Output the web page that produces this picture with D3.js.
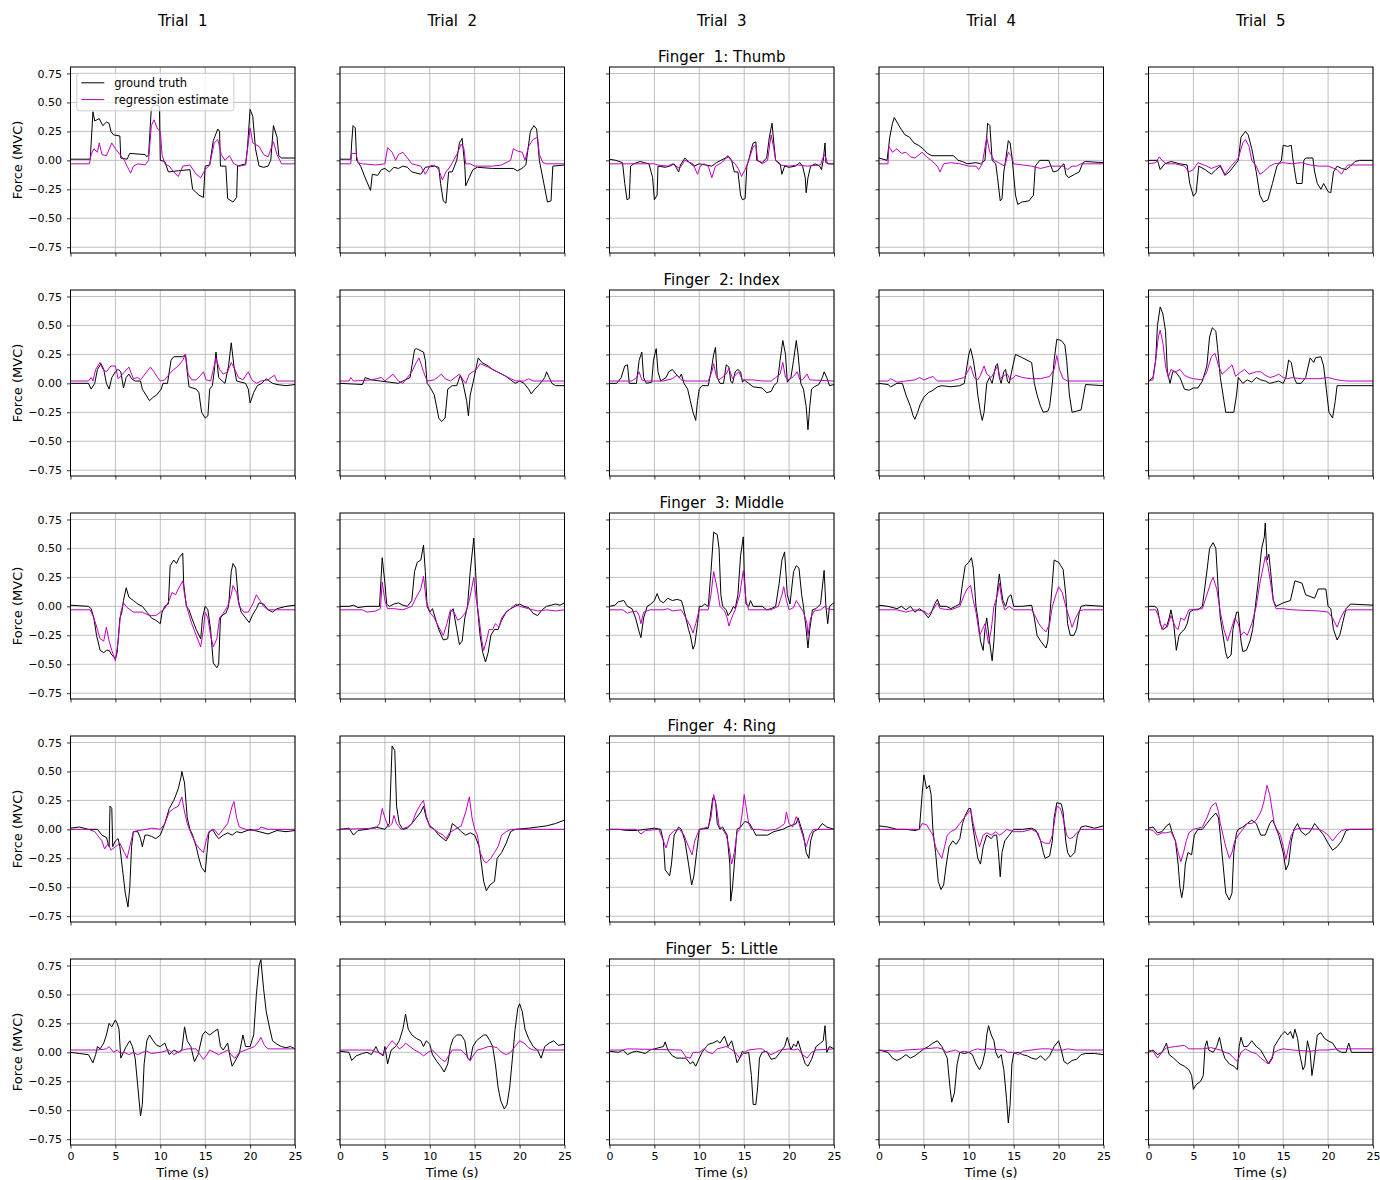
<!DOCTYPE html>
<html>
<head>
<meta charset="utf-8">
<script src="https://cdn.jsdelivr.net/npm/d3@7"></script>
<style>
body { margin: 0; background: #fff; }
svg text { font-family: "DejaVu Sans", sans-serif; fill: #000; }
</style>
</head>
<body>
<script>
var trials = ["Trial  1", "Trial  2", "Trial  3", "Trial  4", "Trial  5"];
var fingers = ["Finger  1: Thumb", "Finger  2: Index", "Finger  3: Middle", "Finger  4: Ring", "Finger  5: Little"];
var xTicks = [0, 5, 10, 15, 20, 25];
var yTicks = [-0.75, -0.5, -0.25, 0, 0.25, 0.5, 0.75];
var seriesNames = ["ground truth", "regression estimate"];

// each trace is a flat list: time, value, time, value, ...
var thumbTruth = [
  [0,0.01, 2.2,0.01, 2.5,0.42, 2.7,0.34, 3.2,0.36, 3.6,0.3, 4.0,0.33, 4.3,0.32, 4.5,0.25, 4.8,0.22, 5.5,0.21, 5.6,0.02, 6.3,0.01, 6.6,0.06, 8.3,0.05, 8.5,0.03, 8.7,0.05, 9.0,0.45, 9.3,0.48, 9.9,0.47, 10.0,0.0, 10.5,-0.01, 10.9,-0.1, 12.0,-0.09, 13.3,-0.08, 13.6,-0.25, 14.3,-0.3, 14.8,-0.32, 15.0,-0.05, 15.5,-0.04, 15.9,0.17, 16.4,0.27, 16.6,0.25, 16.7,-0.05, 17.3,-0.05, 17.5,-0.33, 18.1,-0.36, 18.5,-0.32, 18.6,-0.05, 19.5,-0.03, 19.7,0.1, 20.0,0.44, 20.3,0.38, 20.6,0.1, 21.0,-0.05, 21.5,-0.06, 22.0,-0.05, 22.3,0.0, 22.6,0.3, 23.0,0.2, 23.2,0.04, 23.5,0.02, 25,0.02],
  [0,0.01, 1.2,0.01, 1.3,0.15, 1.45,0.3, 1.7,0.28, 1.85,0.0, 2.3,-0.05, 2.8,-0.15, 3.4,-0.26, 3.6,-0.12, 4.2,-0.13, 4.6,-0.08, 5.0,-0.07, 5.5,-0.1, 6.0,-0.06, 6.5,-0.07, 7.0,-0.05, 7.5,-0.06, 8.0,-0.1, 9.0,-0.12, 9.5,-0.06, 10.5,-0.05, 11.0,-0.06, 11.2,-0.2, 11.5,-0.35, 11.8,-0.37, 12.1,-0.1, 12.5,-0.1, 13.0,0.0, 13.3,0.15, 13.6,0.19, 13.9,-0.05, 14.0,-0.22, 14.4,-0.15, 14.8,-0.08, 15.3,-0.06, 17.0,-0.07, 19.3,-0.07, 19.75,-0.09, 20.25,-0.07, 20.7,-0.04, 21.2,0.25, 21.6,0.3, 21.9,0.27, 22.2,0.0, 22.7,-0.2, 23.1,-0.36, 23.5,-0.35, 23.7,-0.05, 25,-0.04],
  [0,0.01, 0.7,0.0, 1.45,-0.02, 1.7,-0.2, 1.95,-0.34, 2.2,-0.33, 2.35,-0.05, 2.7,-0.03, 3.4,-0.01, 3.9,-0.02, 4.4,-0.03, 4.8,-0.15, 5.0,-0.34, 5.3,-0.3, 5.4,-0.05, 6.2,-0.06, 6.7,-0.05, 7.2,-0.03, 7.7,-0.1, 7.9,-0.04, 8.4,0.02, 8.9,-0.02, 9.4,-0.05, 10.0,-0.03, 11.4,-0.05, 11.9,-0.02, 12.9,0.02, 13.2,0.04, 13.6,0.0, 13.9,-0.1, 14.3,-0.1, 14.6,-0.3, 14.8,-0.34, 15.1,-0.33, 15.3,-0.05, 15.5,0.0, 15.8,0.1, 16.0,0.15, 16.3,0.16, 16.4,0.0, 17.0,-0.02, 17.5,0.02, 17.8,0.2, 18.1,0.32, 18.3,0.15, 18.5,0.0, 19.0,-0.03, 19.2,-0.12, 19.5,-0.05, 20.0,-0.06, 20.7,-0.05, 21.2,-0.02, 21.5,-0.05, 21.8,-0.15, 21.9,-0.28, 22.1,-0.15, 22.4,-0.05, 22.9,-0.03, 23.4,-0.05, 23.6,-0.08, 23.8,0.0, 24.0,0.15, 24.1,-0.02, 24.4,-0.03, 25,-0.03],
  [0,0.02, 0.9,0.0, 1.2,0.2, 1.5,0.32, 1.7,0.37, 2.0,0.33, 2.45,0.27, 2.9,0.22, 3.4,0.2, 3.9,0.15, 4.4,0.13, 4.9,0.1, 5.4,0.06, 5.9,0.04, 8.3,0.04, 8.8,0.0, 9.3,-0.01, 9.8,-0.03, 10.8,-0.02, 11.3,-0.03, 11.8,0.0, 12.1,0.32, 12.35,0.3, 12.6,0.0, 13.0,-0.03, 13.2,-0.15, 13.5,-0.35, 13.7,-0.33, 13.9,-0.1, 14.1,0.0, 14.4,0.17, 14.6,0.15, 14.85,0.0, 15.2,-0.3, 15.45,-0.38, 15.9,-0.36, 16.7,-0.35, 17.2,-0.3, 17.4,-0.05, 17.9,0.0, 18.9,0.0, 19.4,-0.1, 19.9,-0.09, 20.3,-0.05, 20.6,-0.03, 20.8,-0.12, 21.1,-0.15, 21.8,-0.12, 22.3,-0.1, 22.7,-0.02, 23.0,-0.01, 25,-0.02],
  [0,0.0, 1.0,0.0, 1.3,-0.08, 1.8,-0.03, 2.5,-0.01, 3.5,-0.03, 4.3,-0.04, 4.6,-0.2, 5.0,-0.31, 5.3,-0.28, 5.6,-0.05, 6.3,-0.08, 7.0,-0.12, 7.5,-0.08, 8.0,-0.05, 8.5,-0.13, 9.0,-0.1, 9.5,-0.05, 10.0,0.0, 10.3,0.2, 10.8,0.25, 11.1,0.22, 11.5,0.1, 12.0,-0.1, 12.4,-0.3, 12.8,-0.36, 13.3,-0.34, 13.8,-0.2, 14.3,-0.05, 14.8,0.0, 15.0,0.13, 15.5,0.12, 15.9,0.13, 16.1,0.0, 16.5,-0.2, 17.1,-0.2, 17.3,0.0, 17.5,0.02, 18.3,0.02, 18.5,-0.1, 18.8,-0.2, 19.2,-0.25, 19.5,-0.2, 20.0,-0.27, 20.3,-0.28, 20.6,-0.1, 21.0,-0.05, 21.5,-0.07, 22.0,-0.08, 22.5,-0.05, 23.0,-0.01, 23.5,0.0, 25,0.0]
];
var thumbEst = [
  [0,-0.03, 2.1,-0.03, 2.3,0.05, 2.6,0.1, 3.0,0.07, 3.2,0.15, 3.5,0.05, 4.0,0.04, 4.6,0.15, 5.0,0.1, 5.5,0.05, 6.0,0.0, 6.3,-0.05, 6.7,-0.11, 7.0,-0.05, 7.5,-0.03, 8.3,-0.04, 8.7,0.0, 9.0,0.3, 9.3,0.35, 9.7,0.27, 10.0,0.25, 10.2,0.05, 10.5,-0.03, 11.0,-0.05, 11.5,-0.1, 12.0,-0.14, 12.5,-0.05, 13.3,-0.04, 14.0,-0.12, 14.5,-0.15, 15.0,-0.08, 15.5,-0.04, 16.0,0.15, 16.4,0.18, 16.8,0.05, 17.2,0.0, 17.7,0.04, 18.2,-0.03, 18.8,-0.05, 19.5,-0.04, 20.0,0.28, 20.3,0.15, 21.0,0.12, 21.5,0.05, 22.0,0.03, 22.6,0.16, 23.0,0.05, 23.5,-0.03, 25,-0.03],
  [0,-0.03, 1.2,-0.03, 1.3,0.06, 1.8,0.06, 2.0,-0.02, 2.5,-0.03, 4.0,-0.04, 5.0,-0.03, 5.3,0.11, 5.8,0.07, 6.2,0.0, 6.5,0.05, 7.0,0.07, 7.5,0.02, 8.0,-0.03, 9.0,-0.05, 9.5,-0.12, 10.0,-0.05, 10.5,-0.04, 11.0,-0.08, 11.4,-0.17, 11.8,-0.1, 12.3,-0.05, 13.0,0.05, 13.5,0.14, 13.8,0.1, 14.0,-0.03, 14.5,-0.03, 15,-0.05, 17,-0.05, 18,-0.04, 19.0,0.0, 19.3,0.1, 19.8,0.08, 20.3,0.07, 20.6,0.0, 21.0,0.12, 21.5,0.18, 22.0,0.2, 22.2,0.05, 22.6,-0.02, 23,-0.03, 25,-0.03],
  [0,-0.03, 5.0,-0.03, 5.4,-0.04, 6.5,-0.05, 7.0,-0.03, 7.8,-0.07, 8.4,0.0, 9.3,-0.03, 9.8,-0.12, 10.1,-0.05, 10.5,-0.03, 11.0,-0.05, 11.4,-0.15, 11.8,-0.05, 12.5,-0.02, 13.0,0.02, 13.3,0.03, 13.5,0.0, 14.0,-0.03, 14.4,-0.08, 14.7,-0.14, 15.1,-0.08, 15.5,0.0, 16.0,0.12, 16.3,0.13, 16.5,0.0, 17.0,-0.03, 17.6,0.0, 18.0,0.22, 18.3,0.1, 18.5,0.0, 19.0,-0.04, 20,-0.05, 21,-0.04, 22,-0.05, 23.5,-0.04, 23.9,0.05, 24.1,0.02, 24.3,-0.03, 25,-0.03],
  [0,-0.03, 1.0,-0.03, 1.1,0.12, 1.5,0.07, 2.0,0.1, 2.5,0.06, 3.0,0.07, 3.5,0.03, 4.0,0.02, 4.8,0.07, 5.3,0.03, 5.8,0.0, 6.5,-0.05, 6.8,-0.1, 7.2,-0.03, 8,-0.02, 9,-0.03, 10,-0.05, 10.8,-0.05, 11.1,-0.08, 11.5,-0.03, 12.0,0.2, 12.3,0.08, 12.8,0.0, 13.3,-0.02, 14,-0.05, 14.4,0.07, 14.7,0.04, 15,-0.03, 16,-0.04, 17,-0.05, 18,-0.07, 19,-0.05, 20.5,-0.05, 21.0,-0.08, 21.5,-0.05, 22,-0.05, 22.5,-0.03, 25,-0.03],
  [0,-0.03, 0.8,-0.02, 1.2,0.03, 1.5,0.0, 2.0,-0.03, 3,-0.03, 4,-0.05, 4.5,-0.1, 5.0,-0.08, 5.5,-0.02, 6.5,-0.05, 7.0,-0.07, 8.0,-0.04, 8.5,-0.12, 9.2,-0.05, 10.0,0.02, 10.5,0.15, 10.8,0.18, 11.2,0.12, 11.5,0.0, 12.0,-0.05, 12.4,-0.12, 12.8,-0.1, 13.5,-0.05, 14.0,-0.03, 15.0,-0.02, 16.0,-0.03, 17,-0.02, 18,-0.04, 19,-0.05, 20,-0.05, 21.0,-0.08, 21.5,-0.12, 21.8,-0.08, 22.2,-0.04, 25,-0.04]
];

var indexTruth = [
  [0,0.0, 2.0,0.0, 2.3,-0.05, 2.7,0.0, 3.0,0.12, 3.4,0.17, 3.7,0.12, 4.0,0.0, 4.3,-0.05, 4.6,0.05, 5.0,0.1, 5.3,0.12, 5.6,0.1, 5.9,-0.04, 6.2,0.05, 6.5,0.08, 6.8,0.04, 7.2,0.02, 7.8,0.02, 8.0,-0.05, 8.4,-0.1, 8.8,-0.15, 9.2,-0.12, 9.6,-0.1, 10.1,-0.05, 10.3,0.0, 10.8,0.0, 11.2,0.2, 11.5,0.23, 12.5,0.23, 12.8,0.25, 13.0,0.1, 13.2,-0.03, 14.0,-0.05, 14.3,-0.08, 14.6,-0.25, 15.0,-0.3, 15.3,-0.28, 15.5,-0.05, 15.8,-0.02, 16.0,0.1, 16.2,0.27, 16.5,0.05, 16.9,0.02, 17.2,0.0, 17.6,0.15, 17.9,0.35, 18.2,0.15, 18.5,0.02, 19.5,0.0, 19.8,-0.05, 20.0,-0.17, 20.4,-0.08, 20.8,-0.02, 21.3,0.0, 21.8,0.04, 22.5,0.0, 23.0,-0.01, 24,-0.02, 25,-0.01],
  [0,0.0, 2.5,-0.01, 2.8,0.05, 3.5,0.03, 4.5,0.02, 5.5,0.01, 6.5,0.0, 7.0,0.02, 7.8,0.05, 8.3,0.29, 8.5,0.3, 9.3,0.27, 9.5,0.2, 9.7,0.0, 10.0,-0.03, 10.5,-0.1, 11.0,-0.3, 11.3,-0.33, 11.7,-0.3, 12.0,-0.05, 12.5,-0.02, 13.0,-0.02, 13.4,0.07, 13.7,0.0, 14.1,-0.15, 14.3,-0.28, 14.5,-0.1, 14.8,0.0, 15.2,0.15, 15.4,0.22, 15.8,0.18, 16.5,0.15, 17,0.12, 17.5,0.1, 18.0,0.08, 18.5,0.06, 19,0.03, 19.5,0.0, 20.0,0.02, 20.5,0.0, 21.0,-0.05, 21.3,-0.09, 21.7,-0.05, 22.2,-0.01, 22.8,0.05, 23.0,0.1, 23.3,0.05, 23.6,0.0, 24,-0.02, 25,-0.02],
  [0,0.0, 0.8,0.0, 1.3,0.05, 1.7,0.15, 2.0,0.16, 2.2,0.0, 3.0,0.0, 3.3,0.2, 3.6,0.27, 3.8,0.05, 4.1,0.0, 4.7,0.01, 4.9,0.2, 5.2,0.3, 5.4,0.1, 5.7,0.02, 6.3,0.05, 6.6,0.1, 7.0,0.12, 7.4,0.08, 7.8,0.05, 8.0,0.08, 8.3,0.0, 8.7,-0.05, 9.0,-0.15, 9.3,-0.25, 9.6,-0.32, 9.8,-0.15, 10.0,-0.05, 10.3,-0.02, 11.0,-0.02, 11.3,0.1, 11.6,0.25, 11.8,0.31, 12.0,0.05, 12.3,0.0, 12.7,0.0, 13.0,0.16, 13.3,0.14, 13.5,0.02, 13.7,0.0, 14.0,0.1, 14.3,0.12, 14.6,0.1, 14.8,0.01, 15.0,0.03, 15.5,0.0, 16,-0.03, 17,-0.04, 17.5,-0.08, 18,-0.07, 18.3,-0.02, 18.7,0.01, 19.0,0.2, 19.3,0.37, 19.6,0.25, 19.8,0.01, 20.2,0.05, 20.5,0.2, 20.8,0.37, 21.0,0.25, 21.3,0.0, 21.6,-0.05, 21.9,-0.2, 22.1,-0.4, 22.3,-0.2, 22.5,-0.05, 22.8,-0.03, 23.3,-0.01, 23.7,0.05, 23.9,0.1, 24.2,0.05, 24.5,-0.02, 25,-0.01],
  [0,0.0, 1.0,-0.01, 1.3,-0.03, 2.0,0.0, 2.6,0.0, 3.0,-0.1, 3.5,-0.2, 3.8,-0.28, 4.0,-0.31, 4.3,-0.25, 4.6,-0.18, 5.0,-0.12, 5.5,-0.08, 6.0,-0.06, 6.5,-0.03, 7.0,-0.02, 8.0,-0.03, 9.0,-0.02, 9.5,0.0, 9.8,0.15, 10.0,0.25, 10.2,0.3, 10.5,0.2, 10.8,0.05, 11.0,-0.1, 11.3,-0.25, 11.5,-0.32, 11.7,-0.25, 12.0,0.0, 12.3,0.05, 12.6,0.0, 13.0,0.15, 13.2,0.17, 13.4,0.05, 13.6,0.0, 13.9,0.1, 14.1,0.12, 14.3,0.02, 14.5,0.0, 14.9,0.15, 15.2,0.25, 16.0,0.22, 17.0,0.18, 17.3,0.0, 17.6,-0.1, 18.0,-0.2, 18.3,-0.25, 18.8,-0.24, 19.0,-0.2, 19.3,0.0, 19.5,0.2, 19.8,0.38, 20.3,0.37, 20.7,0.33, 20.9,0.2, 21.2,-0.1, 21.5,-0.25, 22.0,-0.24, 22.5,-0.23, 22.8,-0.1, 23.0,-0.01, 25,-0.02],
  [0,0.02, 0.5,0.05, 0.8,0.2, 1.0,0.5, 1.3,0.66, 1.6,0.6, 1.9,0.45, 2.1,0.1, 2.4,0.0, 2.7,0.1, 3.0,0.1, 3.5,0.05, 4.0,-0.05, 4.5,-0.06, 5.0,-0.04, 5.5,-0.04, 6.0,0.02, 6.5,0.15, 6.8,0.4, 7.1,0.48, 7.5,0.45, 7.7,0.3, 8.0,0.05, 8.3,-0.1, 8.6,-0.25, 9.0,-0.25, 9.5,-0.25, 9.8,-0.1, 10.0,0.05, 10.5,0.0, 11.0,0.03, 11.5,0.01, 12.0,0.05, 12.5,0.03, 13.0,0.02, 13.5,0.0, 14.0,0.01, 14.5,0.02, 15.0,0.0, 15.3,0.05, 15.6,0.2, 15.9,0.18, 16.2,0.05, 16.5,0.0, 17.0,0.0, 17.5,0.05, 18.0,0.22, 18.4,0.18, 18.6,0.22, 19.2,0.23, 19.5,0.15, 19.8,-0.05, 20.1,-0.25, 20.5,-0.3, 20.8,-0.15, 21.0,-0.02, 21.5,-0.02, 25,-0.02]
];
var indexEst = [
  [0,0.02, 2.0,0.02, 2.3,0.05, 2.5,0.02, 2.8,0.12, 3.3,0.18, 3.6,0.12, 4.0,0.1, 4.5,0.15, 5.0,0.15, 5.3,0.04, 5.8,0.08, 6.5,0.14, 7.0,0.04, 7.5,0.05, 7.8,0.03, 8.3,0.08, 8.9,0.14, 9.3,0.1, 9.7,0.05, 10.0,0.02, 10.5,0.03, 11.0,0.08, 11.5,0.12, 12.0,0.15, 12.5,0.2, 12.8,0.25, 13.1,0.08, 13.5,0.03, 14.0,0.03, 14.5,0.07, 14.8,0.1, 15.1,0.03, 15.6,0.02, 16.0,0.15, 16.2,0.22, 16.6,0.12, 17.0,0.08, 17.5,0.1, 17.9,0.18, 18.3,0.12, 18.7,0.05, 19.2,0.03, 19.8,0.1, 20.2,0.03, 20.7,0.0, 21.2,0.02, 22.0,0.03, 22.7,0.07, 23.0,0.02, 25,0.02],
  [0,0.02, 1.0,0.02, 1.2,0.05, 1.5,0.02, 3.5,0.03, 4.6,0.05, 5,0.02, 5.9,0.08, 6.5,0.02, 7.0,0.0, 7.5,0.05, 8.0,0.1, 8.5,0.18, 8.8,0.22, 9.3,0.1, 9.7,0.02, 10.5,0.03, 11.0,0.06, 11.3,0.08, 11.7,0.04, 12.3,0.02, 12.8,0.05, 13.3,0.08, 13.7,0.03, 14.0,0.0, 14.4,0.08, 14.8,0.1, 15.2,0.12, 15.6,0.17, 16.5,0.14, 17.5,0.1, 18.0,0.08, 18.5,0.06, 19.0,0.04, 19.6,0.02, 20.5,0.02, 21.0,0.04, 21.5,0.02, 25,0.02],
  [0,0.02, 2.5,0.02, 3.0,0.05, 3.3,0.1, 3.6,0.03, 4.0,0.02, 6,0.02, 7.0,0.04, 7.5,0.07, 8.0,0.03, 8.5,0.02, 10,0.02, 11.0,0.02, 11.4,0.1, 11.6,0.17, 11.9,0.06, 12.2,0.03, 13,0.08, 13.3,0.13, 13.7,0.04, 14.0,0.07, 14.4,0.1, 14.8,0.03, 15.2,0.03, 16,0.03, 17.0,0.02, 18.0,0.02, 18.5,0.05, 19.0,0.08, 19.3,0.18, 19.6,0.05, 20.0,0.03, 20.5,0.06, 20.9,0.1, 21.2,0.03, 21.5,0.03, 22.0,0.08, 22.3,0.03, 25,0.02],
  [0,0.02, 1.0,0.02, 1.3,0.04, 2.0,0.01, 3.0,0.02, 4.0,0.03, 4.5,0.05, 5.0,0.03, 6.0,0.06, 6.5,0.02, 8,0.02, 9.5,0.05, 10.0,0.12, 10.2,0.15, 10.6,0.05, 11.0,0.03, 11.3,0.07, 11.7,0.15, 12.0,0.08, 12.5,0.05, 13.2,0.15, 13.5,0.04, 14.0,0.07, 14.3,0.08, 14.6,0.03, 15,0.05, 15.2,0.07, 16.0,0.05, 17.0,0.04, 18.0,0.04, 19.0,0.06, 19.5,0.12, 19.8,0.24, 20.1,0.12, 20.5,0.04, 21,0.02, 25,0.02],
  [0,0.02, 0.5,0.03, 0.8,0.2, 1.1,0.4, 1.3,0.46, 1.6,0.35, 1.9,0.15, 2.2,0.05, 2.5,0.12, 3.0,0.1, 3.5,0.12, 4.0,0.07, 4.5,0.05, 5.0,0.04, 6.0,0.03, 6.5,0.1, 7.0,0.23, 7.4,0.26, 7.8,0.15, 8.2,0.08, 8.5,0.1, 9.3,0.16, 9.7,0.06, 10.3,0.1, 10.7,0.12, 11.2,0.08, 12.0,0.1, 12.5,0.1, 13.0,0.07, 13.5,0.05, 14.0,0.06, 14.5,0.08, 15.0,0.05, 15.5,0.04, 16,0.05, 17,0.04, 19,0.04, 20,0.05, 21,0.03, 22,0.02, 25,0.02]
];

var middleTruth = [
  [0,0.01, 2.0,0.0, 2.3,-0.02, 2.6,-0.1, 2.9,-0.25, 3.3,-0.38, 3.7,-0.4, 4.0,-0.38, 4.3,-0.38, 4.6,-0.42, 5.0,-0.45, 5.2,-0.4, 5.5,-0.1, 5.7,-0.06, 5.9,0.05, 6.2,0.16, 6.5,0.08, 7.0,0.05, 7.5,0.02, 8.0,0.0, 8.5,-0.05, 9.0,-0.1, 9.5,-0.12, 10.0,-0.15, 10.2,-0.05, 10.5,0.0, 10.9,0.02, 11.1,0.35, 11.5,0.4, 11.8,0.37, 12.1,0.42, 12.5,0.46, 12.6,0.2, 12.9,0.0, 13.2,-0.03, 13.5,-0.1, 14.0,-0.2, 14.5,-0.28, 14.7,-0.1, 15.0,0.0, 15.3,-0.03, 15.6,-0.2, 15.9,-0.49, 16.3,-0.53, 16.5,-0.5, 16.7,-0.1, 17.0,-0.07, 17.3,-0.06, 17.6,0.0, 17.9,0.3, 18.1,0.37, 18.4,0.33, 18.7,0.05, 19.0,-0.05, 19.5,-0.1, 19.9,-0.14, 20.3,-0.07, 20.7,-0.02, 21.0,0.03, 21.5,0.02, 22.0,-0.03, 22.5,-0.05, 23.0,-0.02, 24,0.0, 25,0.01],
  [0,0.0, 1.0,0.0, 1.5,0.01, 2.0,-0.01, 3.0,0.0, 4.4,0.0, 4.7,0.42, 5.0,0.2, 5.2,0.02, 5.5,0.0, 6.0,0.02, 6.5,0.03, 7.0,0.01, 7.5,0.0, 8.0,0.05, 8.3,0.3, 8.6,0.38, 9.0,0.4, 9.3,0.53, 9.5,0.3, 9.7,0.0, 10.0,-0.05, 10.3,-0.02, 10.6,-0.1, 11.0,-0.2, 11.5,-0.29, 12.0,-0.28, 12.3,-0.05, 12.6,-0.02, 13.0,-0.2, 13.3,-0.33, 13.6,-0.3, 13.9,-0.1, 14.2,0.0, 14.5,0.3, 14.9,0.59, 15.1,0.3, 15.3,0.0, 15.6,-0.25, 15.9,-0.4, 16.2,-0.48, 16.5,-0.4, 16.8,-0.25, 17.2,-0.2, 17.6,-0.2, 18.0,-0.12, 18.5,-0.05, 19.0,-0.02, 19.5,0.0, 20.0,0.02, 20.5,0.0, 21.0,-0.01, 21.5,-0.06, 22.0,-0.08, 22.5,-0.03, 23.0,0.0, 23.5,0.01, 24.0,0.02, 24.5,0.01, 25,0.03],
  [0,0.0, 0.6,0.01, 1.0,0.04, 1.6,0.05, 2.0,0.0, 2.5,-0.02, 2.9,-0.1, 3.3,-0.22, 3.5,-0.27, 3.8,-0.1, 4.2,0.0, 4.6,0.02, 5.0,0.05, 5.3,0.11, 5.6,0.05, 6.0,0.03, 6.5,0.07, 7.0,0.05, 7.5,0.06, 8.0,0.05, 8.2,0.0, 8.5,-0.1, 8.8,-0.2, 9.0,-0.25, 9.3,-0.37, 9.5,-0.33, 9.8,-0.15, 10.0,0.0, 10.3,0.0, 10.6,0.02, 11.0,0.0, 11.3,0.3, 11.6,0.64, 12.0,0.62, 12.2,0.5, 12.4,0.1, 12.6,0.0, 13.0,-0.03, 13.2,-0.08, 13.5,-0.05, 13.8,0.0, 14.0,-0.02, 14.3,0.1, 14.6,0.44, 14.9,0.6, 15.0,0.3, 15.2,0.02, 15.5,0.0, 15.7,0.05, 16.0,0.0, 17,0.0, 17.5,-0.03, 18.0,-0.02, 18.5,0.0, 18.9,0.2, 19.2,0.4, 19.5,0.47, 19.8,0.1, 20.1,0.02, 20.5,0.3, 20.8,0.35, 21.1,0.33, 21.4,0.1, 21.6,0.0, 21.9,-0.2, 22.1,-0.36, 22.3,-0.2, 22.6,-0.03, 23.0,-0.02, 23.5,0.02, 23.9,0.31, 24.1,0.0, 24.3,-0.15, 24.5,0.0, 24.8,0.02, 25,0.03],
  [0,0.01, 1.0,0.0, 2.0,-0.02, 2.5,0.0, 3.0,-0.03, 3.5,0.0, 4.0,-0.05, 4.5,-0.02, 5.0,-0.05, 5.5,-0.1, 5.8,-0.06, 6.2,0.02, 6.5,0.06, 6.8,0.0, 7.5,0.0, 8.0,-0.02, 8.5,0.0, 9.0,0.02, 9.3,0.2, 9.6,0.35, 10.0,0.38, 10.3,0.42, 10.5,0.33, 10.8,0.0, 11.0,-0.1, 11.3,-0.3, 11.6,-0.38, 11.8,-0.2, 12.0,-0.1, 12.3,-0.3, 12.6,-0.47, 12.8,-0.3, 13.0,0.0, 13.2,0.15, 13.4,0.28, 13.6,0.15, 13.8,0.05, 14.1,0.0, 14.4,0.08, 14.7,0.1, 15.0,0.0, 16.0,0.0, 17.0,0.01, 17.3,-0.1, 17.6,-0.25, 18.0,-0.3, 18.6,-0.36, 18.8,-0.3, 19.0,-0.1, 19.3,0.2, 19.5,0.4, 20.0,0.38, 20.5,0.32, 20.8,0.1, 21.0,-0.15, 21.3,-0.25, 21.7,-0.25, 22.0,-0.2, 22.3,-0.05, 22.5,0.0, 23.0,0.01, 25,0.0],
  [0,0.0, 0.7,0.0, 1.0,-0.02, 1.3,-0.15, 1.6,-0.2, 2.0,-0.18, 2.3,-0.1, 2.5,-0.03, 2.8,-0.15, 3.0,-0.3, 3.1,-0.38, 3.4,-0.25, 3.7,-0.22, 4.0,-0.2, 4.3,-0.15, 4.6,-0.05, 5.0,-0.03, 5.5,-0.03, 6.0,0.0, 6.5,0.3, 6.8,0.5, 7.2,0.55, 7.5,0.5, 7.8,0.1, 8.0,-0.1, 8.3,-0.25, 8.6,-0.4, 8.8,-0.45, 9.2,-0.42, 9.4,-0.2, 9.8,-0.05, 10.0,-0.05, 10.3,-0.3, 10.5,-0.39, 10.9,-0.38, 11.3,-0.3, 11.6,-0.2, 11.9,0.0, 12.2,0.2, 12.6,0.5, 12.9,0.6, 13.0,0.72, 13.2,0.4, 13.4,0.45, 13.6,0.3, 13.9,0.05, 14.2,0.0, 15.0,0.03, 15.8,0.05, 16.1,0.15, 16.3,0.22, 17.1,0.2, 17.5,0.1, 18.5,0.07, 18.9,0.15, 19.75,0.15, 20.0,0.0, 20.3,-0.02, 20.6,-0.2, 21.0,-0.29, 21.3,-0.25, 21.6,-0.15, 22.0,-0.02, 22.5,0.02, 25,0.01]
];
var middleEst = [
  [0,-0.03, 2.2,-0.03, 2.6,-0.1, 3.0,-0.2, 3.3,-0.28, 3.7,-0.3, 4.0,-0.18, 4.3,-0.3, 4.6,-0.38, 5.0,-0.47, 5.3,-0.3, 5.6,-0.05, 5.9,0.03, 6.3,-0.01, 7.0,-0.05, 8.0,-0.05, 8.5,-0.07, 9.0,-0.08, 9.5,-0.08, 10.0,-0.05, 10.5,-0.02, 11.0,0.05, 11.3,0.12, 11.7,0.1, 12.0,0.15, 12.5,0.22, 12.7,0.1, 13.0,-0.02, 13.5,-0.15, 14.0,-0.25, 14.5,-0.35, 14.8,-0.2, 15.0,-0.05, 15.3,-0.1, 15.6,-0.25, 15.9,-0.35, 16.3,-0.28, 16.6,-0.1, 17.0,-0.06, 17.5,0.0, 17.9,0.1, 18.1,0.18, 18.5,0.12, 18.8,0.0, 19.3,-0.05, 19.8,-0.05, 20.3,0.02, 20.7,0.1, 21.1,0.05, 21.5,0.0, 22.0,-0.03, 25,-0.03],
  [0,-0.03, 2.5,-0.03, 3.0,-0.05, 4.0,-0.04, 4.5,-0.02, 4.7,0.21, 5.0,0.05, 5.3,-0.02, 6.0,-0.02, 7.0,-0.03, 8.0,0.0, 8.5,0.08, 9.0,0.15, 9.3,0.26, 9.6,0.05, 10.0,-0.05, 10.5,-0.1, 11.0,-0.18, 11.5,-0.25, 11.9,-0.15, 12.3,-0.03, 12.7,-0.05, 13.1,-0.12, 13.5,-0.1, 14.0,-0.05, 14.4,0.05, 14.9,0.25, 15.1,0.1, 15.4,-0.05, 15.8,-0.3, 16.0,-0.38, 16.3,-0.3, 16.6,-0.2, 17.0,-0.2, 17.3,-0.15, 17.7,-0.18, 18.0,-0.1, 18.5,-0.05, 19.0,-0.02, 19.6,0.02, 20.0,0.0, 21.0,-0.02, 22.0,-0.04, 23.0,-0.03, 24.0,-0.04, 25,-0.03],
  [0,-0.03, 1.5,-0.03, 2.0,-0.06, 2.3,-0.05, 3.0,-0.04, 3.3,-0.08, 3.5,-0.15, 3.8,-0.05, 4.5,-0.03, 6.0,-0.03, 6.5,-0.02, 7.0,-0.04, 8.0,-0.03, 8.5,-0.1, 9.0,-0.17, 9.3,-0.23, 9.6,-0.15, 10.0,-0.03, 11.0,-0.03, 11.3,0.1, 11.6,0.3, 12.0,0.15, 12.3,0.0, 12.8,-0.04, 13.1,-0.1, 13.3,-0.17, 13.6,-0.1, 14.0,-0.03, 14.5,0.1, 14.9,0.31, 15.2,0.05, 15.5,-0.03, 18,-0.03, 18.8,0.0, 19.2,0.1, 19.4,0.17, 19.7,0.05, 20.0,-0.03, 20.5,-0.01, 20.8,0.05, 21.2,0.0, 21.6,-0.05, 22.0,-0.15, 22.1,-0.25, 22.4,-0.1, 22.8,-0.04, 23.5,-0.03, 24.0,0.0, 24.2,-0.02, 25,-0.03],
  [0,-0.03, 2.0,-0.03, 3.0,-0.05, 4.0,-0.03, 5.0,-0.04, 5.5,-0.07, 6.0,-0.03, 6.5,0.03, 6.8,-0.02, 8.0,-0.03, 9.0,0.0, 9.5,0.1, 9.8,0.15, 10.2,0.18, 10.5,0.05, 10.8,-0.05, 11.2,-0.25, 11.5,-0.2, 11.8,-0.15, 12.2,-0.32, 12.5,-0.2, 12.8,0.0, 13.2,0.1, 13.4,0.2, 13.7,0.05, 14.0,-0.03, 14.5,0.0, 15,-0.03, 17,-0.03, 17.5,-0.1, 17.8,-0.15, 18.3,-0.2, 18.6,-0.22, 19.0,-0.15, 19.3,0.0, 19.7,0.1, 20.0,0.17, 20.4,0.12, 20.8,0.0, 21.2,-0.1, 21.5,-0.18, 21.9,-0.1, 22.3,-0.04, 22.8,-0.03, 25,-0.03],
  [0,-0.03, 0.8,-0.03, 1.2,-0.1, 1.5,-0.2, 1.8,-0.15, 2.1,-0.18, 2.5,-0.08, 3.0,-0.18, 3.3,-0.2, 3.6,-0.1, 4.0,-0.12, 4.5,-0.03, 6.0,-0.02, 6.5,0.1, 7.0,0.22, 7.2,0.25, 7.6,0.15, 8.0,-0.05, 8.4,-0.2, 8.8,-0.3, 9.2,-0.2, 9.6,-0.1, 10.0,-0.15, 10.3,-0.25, 10.6,-0.22, 11.0,-0.25, 11.5,-0.15, 12.0,0.0, 12.4,0.2, 12.8,0.35, 13.0,0.43, 13.3,0.35, 13.6,0.2, 13.9,0.05, 14.2,-0.02, 15,-0.02, 16,-0.03, 19,-0.04, 20.0,-0.05, 20.5,-0.1, 21.0,-0.18, 21.4,-0.1, 21.8,-0.04, 22.2,-0.03, 25,-0.03]
];

var ringTruth = [
  [0,0.01, 1.0,0.02, 2.0,0.0, 3.0,0.0, 3.5,-0.05, 4.0,-0.07, 4.3,-0.15, 4.4,0.2, 4.6,0.18, 4.7,-0.15, 5.0,-0.1, 5.3,-0.08, 5.5,-0.15, 5.8,-0.35, 6.1,-0.55, 6.4,-0.67, 6.6,-0.5, 6.8,-0.15, 7.0,-0.02, 7.5,-0.02, 7.8,-0.08, 8.0,-0.15, 8.3,-0.05, 8.6,-0.05, 9.0,-0.06, 9.5,-0.08, 10.0,-0.05, 10.5,0.05, 11.0,0.18, 11.5,0.25, 12.0,0.35, 12.3,0.45, 12.4,0.5, 12.7,0.4, 13.0,0.1, 13.3,0.0, 13.6,-0.05, 14.0,-0.15, 14.3,-0.25, 14.6,-0.33, 15.0,-0.37, 15.2,-0.2, 15.4,-0.03, 15.8,0.0, 16.2,-0.05, 16.5,-0.08, 17.0,-0.05, 17.5,-0.03, 18.0,-0.05, 18.5,-0.02, 19.0,-0.03, 20.0,0.0, 21.0,-0.02, 22.0,-0.04, 23.0,-0.01, 24.0,-0.02, 25,-0.01],
  [0,0.0, 1.0,0.01, 1.5,-0.05, 2.0,-0.01, 3.0,0.0, 4.0,0.02, 5.0,0.0, 5.5,0.05, 5.8,0.72, 6.1,0.68, 6.3,0.2, 6.6,0.05, 7.0,0.0, 7.5,0.01, 8.0,0.05, 8.5,0.1, 9.0,0.15, 9.3,0.2, 9.6,0.1, 10.0,0.03, 10.5,0.0, 11.0,-0.05, 11.8,-0.1, 12.2,-0.05, 12.5,0.05, 13.0,0.02, 13.5,-0.02, 14.0,-0.05, 14.5,-0.03, 15.0,-0.05, 15.5,-0.15, 16.0,-0.45, 16.3,-0.53, 16.7,-0.48, 17.2,-0.45, 17.5,-0.25, 18.0,-0.2, 18.5,-0.12, 19.0,-0.02, 19.5,0.0, 21,0.01, 22,0.02, 23,0.03, 24,0.05, 25,0.08],
  [0,0.0, 1.0,0.0, 2.0,-0.01, 3.0,-0.01, 4.0,0.0, 5.0,0.01, 5.7,0.0, 6.0,-0.1, 6.2,-0.35, 6.7,-0.4, 6.9,-0.3, 7.2,-0.05, 7.7,0.02, 8.0,0.0, 8.4,-0.1, 8.8,-0.3, 9.15,-0.48, 9.4,-0.4, 9.7,-0.2, 10.0,0.0, 11.0,0.01, 11.2,0.1, 11.5,0.27, 11.8,0.25, 12.0,0.05, 12.3,0.0, 12.6,0.02, 13.1,-0.05, 13.4,-0.3, 13.5,-0.62, 13.7,-0.5, 14.0,-0.2, 14.2,0.0, 14.6,0.02, 14.9,0.05, 15.1,0.07, 15.6,0.05, 16.1,-0.02, 16.3,-0.05, 17.6,-0.05, 18.3,-0.02, 19.3,0.0, 19.8,0.02, 20.8,0.05, 21.0,0.1, 21.2,0.05, 21.6,-0.05, 21.9,-0.2, 22.2,-0.25, 22.4,-0.1, 22.7,-0.02, 23.2,0.0, 23.7,0.05, 24.2,0.02, 25,0.0],
  [0,0.03, 1.0,0.02, 2.0,0.0, 3.0,0.0, 4.0,-0.01, 4.5,0.0, 4.8,0.3, 5.0,0.47, 5.3,0.35, 5.6,0.38, 5.8,0.3, 6.0,0.0, 6.3,-0.2, 6.6,-0.45, 6.9,-0.52, 7.2,-0.48, 7.5,-0.3, 7.8,-0.15, 8.2,-0.1, 8.6,-0.13, 9.0,-0.08, 9.3,0.05, 9.6,0.12, 10.0,0.18, 10.2,0.18, 10.4,0.05, 10.7,-0.1, 11.0,-0.25, 11.3,-0.3, 11.6,-0.15, 12.0,-0.05, 12.5,-0.08, 12.8,-0.05, 13.1,-0.05, 13.3,-0.2, 13.5,-0.41, 13.7,-0.2, 14.0,-0.1, 14.5,-0.05, 15.0,0.0, 16.0,0.0, 17.0,0.01, 17.5,-0.01, 18.0,-0.1, 18.3,-0.2, 18.5,-0.25, 19.0,-0.23, 19.3,-0.1, 19.5,0.1, 19.8,0.23, 20.3,0.22, 20.5,0.15, 20.8,-0.1, 21.0,-0.2, 21.3,-0.24, 21.8,-0.2, 22.1,-0.05, 22.5,0.02, 23.0,0.03, 24,0.01, 25,0.03],
  [0,0.01, 0.5,0.02, 1.0,-0.03, 1.5,-0.02, 2.0,0.03, 2.35,0.05, 2.6,-0.02, 3.0,-0.1, 3.3,-0.3, 3.5,-0.5, 3.7,-0.59, 3.9,-0.5, 4.1,-0.3, 4.4,-0.2, 4.8,-0.22, 5.1,-0.05, 5.5,0.0, 6.0,0.0, 6.5,0.05, 7.0,0.1, 7.5,0.14, 7.8,0.1, 8.0,-0.05, 8.3,-0.3, 8.6,-0.55, 9.0,-0.61, 9.3,-0.55, 9.5,-0.2, 9.8,-0.03, 10.0,0.0, 10.5,0.02, 11.0,0.05, 11.5,0.08, 12.0,0.05, 12.5,-0.05, 13.0,-0.05, 13.5,0.05, 13.8,0.08, 14.0,0.05, 14.5,-0.05, 15.0,-0.2, 15.3,-0.35, 15.6,-0.3, 15.9,-0.1, 16.2,0.0, 16.6,0.05, 17.0,-0.02, 17.5,-0.05, 18.0,-0.02, 18.5,0.05, 19.0,0.0, 19.5,-0.05, 20.0,-0.12, 20.5,-0.18, 21.0,-0.15, 21.5,-0.1, 22.0,-0.01, 22.5,0.0, 25,0.0]
];
var ringEst = [
  [0,0.0, 2.0,0.0, 2.7,-0.02, 3.0,-0.05, 3.5,-0.1, 3.8,-0.17, 4.2,-0.12, 4.5,-0.18, 5.0,-0.15, 5.5,-0.12, 6.0,-0.2, 6.3,-0.25, 6.6,-0.15, 7.0,-0.02, 7.5,-0.01, 8.5,0.0, 9.0,0.01, 10.0,0.0, 10.5,0.05, 11.0,0.15, 11.5,0.18, 12.0,0.2, 12.4,0.28, 12.7,0.15, 13.0,0.05, 13.5,-0.05, 14.0,-0.13, 14.5,-0.18, 14.8,-0.2, 15.1,-0.1, 15.4,-0.02, 16.0,0.0, 16.5,-0.05, 17.0,0.0, 17.5,0.05, 18.0,0.2, 18.2,0.24, 18.5,0.1, 18.8,0.02, 19.5,0.0, 20.0,-0.01, 21.0,0.0, 21.2,0.02, 22,0.0, 25,0.0],
  [0,0.0, 4.0,0.01, 4.4,0.05, 4.7,0.18, 5.0,0.1, 5.4,0.02, 5.8,0.05, 6.0,0.12, 6.3,0.05, 6.8,0.0, 7.5,0.02, 8.0,0.05, 8.5,0.15, 9.0,0.22, 9.3,0.25, 9.6,0.12, 10.0,0.02, 10.5,0.0, 11.0,-0.03, 11.5,-0.05, 11.8,-0.08, 12.2,-0.03, 12.8,0.0, 13.5,0.03, 14.0,0.15, 14.4,0.28, 14.7,0.1, 15.0,0.0, 15.3,-0.05, 15.6,-0.2, 16.0,-0.27, 16.3,-0.29, 16.8,-0.25, 17.2,-0.2, 17.6,-0.15, 18.0,-0.05, 18.5,-0.02, 19.0,0.0, 25,0.0],
  [0,0.0, 3.0,0.0, 3.5,-0.04, 4.0,-0.01, 5.5,0.0, 6.0,-0.1, 6.3,-0.16, 6.7,-0.05, 7.2,-0.01, 7.8,0.0, 8.3,-0.05, 8.8,-0.15, 9.2,-0.22, 9.5,-0.1, 10.0,0.0, 11.0,0.02, 11.3,0.1, 11.6,0.3, 11.9,0.2, 12.2,0.03, 12.6,0.0, 13.0,-0.05, 13.3,-0.15, 13.6,-0.3, 13.9,-0.2, 14.2,-0.03, 14.5,0.0, 14.8,0.15, 15.0,0.3, 15.2,0.2, 15.5,0.05, 15.8,0.0, 16.5,0.0, 17.5,-0.01, 18.5,0.0, 19.0,0.02, 19.5,0.05, 19.7,0.15, 20.0,0.05, 20.4,0.02, 20.8,0.11, 21.1,0.05, 21.5,-0.05, 21.9,-0.15, 22.3,-0.05, 22.7,0.0, 25,0.0],
  [0,0.0, 3.0,0.0, 4.5,0.0, 4.8,0.05, 5.3,0.04, 5.6,0.0, 6.0,-0.05, 6.3,-0.15, 6.6,-0.2, 7.0,-0.25, 7.3,-0.15, 7.6,-0.05, 8.0,-0.02, 8.5,0.0, 9.0,0.05, 9.5,0.1, 10.0,0.15, 10.2,0.17, 10.5,0.05, 10.8,-0.05, 11.2,-0.15, 11.6,-0.05, 12.0,-0.03, 12.5,-0.05, 13.0,-0.02, 13.4,-0.05, 13.8,-0.03, 14.2,0.0, 15.0,-0.02, 16,-0.02, 17,0.0, 17.7,-0.03, 18.0,-0.1, 18.5,-0.12, 19.0,-0.12, 19.3,-0.05, 19.6,0.1, 19.8,0.2, 20.2,0.18, 20.5,0.1, 20.9,-0.05, 21.2,-0.08, 21.6,-0.07, 22.0,-0.03, 22.5,0.0, 25,0.0],
  [0,0.0, 0.5,-0.01, 1.0,-0.05, 1.5,-0.03, 2.0,-0.03, 2.5,-0.02, 3.0,-0.1, 3.3,-0.2, 3.6,-0.28, 3.9,-0.2, 4.2,-0.1, 4.5,-0.03, 5.0,0.0, 6.0,0.02, 6.5,0.1, 7.0,0.2, 7.5,0.23, 7.8,0.15, 8.0,0.05, 8.3,-0.05, 8.6,-0.15, 9.0,-0.25, 9.3,-0.2, 9.6,-0.1, 10.0,-0.05, 10.5,0.0, 11.0,0.05, 11.5,0.05, 12.0,0.08, 12.5,0.15, 12.8,0.22, 13.0,0.3, 13.2,0.38, 13.5,0.3, 13.8,0.15, 14.0,0.05, 14.3,0.0, 14.7,-0.05, 15.0,-0.15, 15.3,-0.26, 15.6,-0.15, 15.9,-0.05, 16.3,0.0, 17.0,0.01, 19.0,0.0, 19.5,-0.02, 20.0,-0.05, 20.5,-0.1, 21.0,-0.05, 21.5,-0.01, 22,0.0, 25,0.0]
];

var littleTruth = [
  [0,0.0, 1.0,-0.01, 2.0,-0.02, 2.5,-0.09, 2.8,-0.02, 3.0,0.05, 3.3,0.03, 3.7,0.08, 4.0,0.15, 4.3,0.25, 4.6,0.22, 5.0,0.28, 5.2,0.25, 5.4,0.2, 5.6,-0.05, 5.9,0.0, 6.2,0.05, 6.6,0.1, 6.9,0.05, 7.2,-0.05, 7.5,-0.3, 7.8,-0.55, 8.0,-0.45, 8.2,-0.1, 8.5,0.1, 8.8,0.15, 9.2,0.1, 9.6,0.06, 10.0,0.05, 10.5,0.08, 11.0,-0.02, 11.5,0.02, 12.0,0.0, 12.4,0.02, 12.7,0.22, 13.0,0.1, 13.4,0.05, 13.8,-0.08, 14.2,-0.02, 14.7,0.15, 15.0,0.18, 15.5,0.15, 16.0,0.18, 16.4,0.2, 16.7,0.05, 17.0,0.02, 17.5,0.08, 17.8,-0.05, 18.0,-0.12, 18.3,-0.08, 18.8,-0.01, 19.2,0.15, 19.5,0.05, 20.0,0.05, 20.4,0.15, 20.7,0.5, 21.0,0.75, 21.2,0.8, 21.5,0.55, 21.8,0.35, 22.2,0.2, 22.5,0.1, 23.0,0.07, 23.5,0.05, 24,0.04, 24.5,0.05, 25,0.03],
  [0,0.01, 1.0,0.0, 1.3,-0.07, 1.8,-0.03, 2.5,-0.01, 3.0,0.0, 3.5,-0.02, 4.0,0.05, 4.3,0.0, 4.8,-0.03, 5.0,0.05, 5.3,-0.1, 5.7,0.02, 6.2,0.05, 6.6,0.1, 7.0,0.2, 7.3,0.33, 7.6,0.2, 8.0,0.15, 8.5,0.12, 9.0,0.1, 9.3,0.05, 9.6,0.1, 10.0,0.07, 10.3,-0.02, 10.8,-0.08, 11.2,-0.12, 11.6,-0.17, 12.0,-0.1, 12.3,0.05, 12.6,0.12, 13.0,0.15, 13.5,0.15, 13.9,0.1, 14.2,-0.05, 14.5,-0.07, 14.8,0.05, 15.2,0.1, 15.5,0.12, 16.0,0.15, 16.3,0.15, 16.7,0.1, 17.0,0.05, 17.3,-0.1, 17.6,-0.3, 17.9,-0.42, 18.3,-0.49, 18.6,-0.45, 18.9,-0.3, 19.2,-0.05, 19.5,0.2, 19.8,0.38, 20.0,0.42, 20.3,0.35, 20.6,0.2, 21.0,0.12, 21.5,0.05, 22.0,0.02, 22.4,-0.05, 22.8,0.05, 23.3,0.08, 23.8,0.1, 24.3,0.06, 25,0.07],
  [0,0.01, 1.0,0.0, 1.5,0.02, 2.0,-0.02, 2.5,0.0, 3.0,0.01, 3.5,0.0, 4.0,-0.01, 4.5,0.02, 5.0,0.03, 5.5,0.04, 6.0,0.05, 6.2,0.09, 6.5,0.02, 7.0,-0.03, 7.5,-0.05, 8.0,-0.05, 8.5,-0.05, 9.0,-0.1, 9.3,-0.08, 9.6,-0.12, 10.0,-0.05, 10.3,0.0, 10.8,0.05, 11.0,0.07, 11.5,0.08, 12.0,0.1, 12.3,0.08, 12.8,0.14, 13.2,0.05, 13.6,0.1, 14.0,-0.02, 14.2,-0.09, 14.5,-0.05, 14.8,0.01, 15.1,-0.01, 15.5,0.0, 15.8,-0.2, 16.0,-0.45, 16.3,-0.45, 16.5,-0.3, 16.7,-0.05, 17.0,0.0, 17.5,0.01, 18.0,-0.06, 18.5,-0.05, 19.0,0.0, 19.5,0.05, 19.8,0.13, 20.2,0.02, 20.5,0.07, 20.8,0.05, 21.0,0.1, 21.5,-0.03, 21.8,-0.1, 22.1,-0.12, 22.5,-0.06, 23.0,0.05, 23.5,0.08, 23.8,0.1, 24.0,0.23, 24.2,0.0, 24.5,0.05, 25,0.03],
  [0,0.02, 0.5,0.01, 1.0,0.0, 1.5,-0.05, 2.0,-0.07, 2.5,-0.05, 3.0,-0.02, 3.5,-0.05, 4.0,-0.03, 4.5,0.0, 5.0,0.03, 5.5,0.05, 6.0,0.08, 6.5,0.1, 7.0,0.05, 7.3,0.0, 7.6,-0.05, 7.9,-0.3, 8.1,-0.43, 8.4,-0.35, 8.7,-0.1, 9.0,0.0, 9.5,-0.01, 10.0,0.0, 10.4,-0.02, 10.8,-0.1, 11.2,-0.15, 11.5,-0.1, 11.8,0.0, 12.0,0.15, 12.2,0.23, 12.5,0.15, 12.8,0.1, 13.0,0.0, 13.3,-0.05, 13.6,-0.02, 13.9,-0.15, 14.2,-0.4, 14.4,-0.61, 14.6,-0.45, 14.8,-0.1, 15.0,-0.01, 15.5,0.0, 16.0,-0.02, 16.5,-0.03, 17.0,-0.05, 17.5,-0.06, 18.0,-0.03, 18.5,-0.07, 19.0,-0.03, 19.5,0.05, 20.0,0.1, 20.3,0.02, 20.6,-0.08, 21.0,-0.1, 21.5,-0.07, 22.0,-0.06, 22.5,-0.02, 23.0,-0.01, 24,-0.01, 25,-0.02],
  [0,0.0, 0.5,0.02, 1.0,-0.02, 1.5,0.0, 2.0,0.08, 2.3,-0.02, 2.8,-0.05, 3.2,-0.08, 3.5,-0.1, 4.0,-0.12, 4.5,-0.15, 4.8,-0.2, 5.0,-0.32, 5.3,-0.28, 5.8,-0.25, 6.1,-0.2, 6.3,0.05, 6.5,0.1, 6.7,0.02, 7.2,0.0, 7.6,0.05, 7.9,0.13, 8.2,0.02, 8.5,-0.05, 9.0,-0.1, 9.5,-0.12, 9.9,-0.15, 10.1,0.05, 10.3,0.13, 10.6,0.05, 11.0,0.05, 11.5,0.1, 12.0,0.05, 12.5,0.02, 13.0,-0.05, 13.4,-0.1, 13.8,-0.05, 14.0,0.05, 14.4,0.1, 14.8,0.15, 15.2,0.18, 15.5,0.15, 15.8,0.18, 16.1,0.12, 16.3,0.2, 16.6,0.12, 16.8,0.0, 17.2,-0.15, 17.4,-0.12, 17.7,0.1, 18.0,0.0, 18.2,-0.2, 18.4,-0.1, 18.8,0.15, 19.2,0.17, 19.6,0.12, 20.0,0.1, 20.5,0.08, 21.0,0.02, 21.5,0.0, 22.0,0.0, 22.3,0.08, 22.6,0.0, 23.0,0.0, 25,0.0]
];
var littleEst = [
  [0,0.02, 3.0,0.02, 4.0,0.03, 4.3,0.05, 4.8,0.0, 5.2,0.02, 5.6,-0.01, 6.0,0.0, 6.5,-0.02, 7.0,0.0, 7.5,-0.02, 8.0,0.0, 8.5,0.01, 9.0,-0.01, 10.0,0.0, 11.0,0.02, 11.5,-0.02, 12.0,0.0, 12.5,0.02, 13.0,0.03, 14.0,0.03, 14.5,-0.03, 14.8,-0.06, 15.2,-0.02, 15.5,0.02, 16.0,0.0, 16.5,-0.02, 17.0,0.0, 17.5,0.02, 18.0,-0.03, 18.3,-0.05, 18.8,0.0, 19.5,0.02, 20.5,0.05, 21.0,0.1, 21.2,0.13, 21.6,0.06, 22.0,0.03, 25,0.03],
  [0,0.02, 3.5,0.02, 4.2,0.0, 4.8,-0.02, 5.3,0.05, 5.8,0.1, 6.2,0.07, 6.6,0.03, 7.0,0.05, 7.3,0.08, 7.8,0.05, 8.3,0.02, 8.8,0.0, 9.3,-0.03, 9.8,0.0, 10.3,0.02, 10.8,-0.02, 11.3,-0.06, 11.7,-0.08, 12.1,-0.03, 12.5,0.02, 13.5,0.02, 14.0,-0.02, 14.5,-0.07, 14.9,-0.02, 15.3,0.02, 15.8,0.03, 16.5,0.05, 17.0,0.05, 17.5,0.04, 18.0,0.0, 18.5,-0.02, 19.0,0.0, 19.5,0.05, 20.0,0.1, 20.5,0.08, 21.0,0.04, 21.5,0.02, 25,0.02],
  [0,0.02, 1.5,0.02, 2.0,0.03, 8.0,0.02, 8.5,-0.04, 9.0,-0.05, 9.3,0.0, 10.0,0.0, 10.5,0.03, 11.0,0.0, 11.5,-0.01, 12.0,0.03, 12.5,0.04, 13.0,0.05, 13.5,0.03, 14.0,0.0, 14.5,-0.05, 15.0,0.0, 15.5,0.02, 16.5,0.03, 17.0,0.03, 17.5,0.0, 18.0,-0.02, 18.5,0.0, 19.0,0.02, 20.0,0.03, 20.5,0.02, 21.0,0.03, 21.5,-0.02, 22.0,-0.05, 22.5,0.0, 23,0.02, 25,0.03],
  [0,0.02, 2.0,0.01, 3.0,0.02, 5.0,0.03, 6.5,0.04, 7.0,0.03, 7.5,0.0, 8.0,0.01, 8.5,0.02, 9.0,0.0, 9.5,0.01, 10.0,0.0, 10.5,0.02, 11.0,0.03, 11.5,0.02, 12.0,0.03, 14.0,0.02, 14.3,0.0, 15.0,0.0, 15.5,-0.02, 16.0,0.01, 17.0,0.02, 18.0,0.03, 19.0,0.03, 19.5,0.02, 20.5,0.02, 21.0,0.03, 22.0,0.02, 25,0.02],
  [0,0.02, 0.5,0.01, 1.0,-0.05, 1.5,0.0, 2.0,0.04, 3.0,0.05, 4.0,0.06, 4.5,0.03, 6.0,0.03, 7.0,0.04, 8.0,0.02, 8.5,0.0, 9.0,-0.01, 9.5,-0.05, 9.9,-0.08, 10.3,0.0, 10.8,0.03, 11.5,0.0, 12.0,-0.01, 12.5,-0.05, 13.0,-0.08, 13.3,-0.1, 13.7,-0.05, 14.0,0.0, 14.5,0.02, 15.0,0.03, 16.0,0.02, 18,0.01, 19,0.02, 20,0.02, 21.0,0.03, 25,0.03]
];

var truth = [thumbTruth, indexTruth, middleTruth, ringTruth, littleTruth];
var estimate = [thumbEst, indexEst, middleEst, ringEst, littleEst];

var width = 1380, height = 1180;
var panelW = 224.5, panelH = 186;
var colStep = 269.5, rowStep = 223;
var left0 = 70.5, top0 = 67;
var truthColor = "#000000", estColor = "#bf00bf", gridColor = "#b0b0b0";

var svg = d3.select("body").append("svg")
    .attr("width", width)
    .attr("height", height);

var x = d3.scaleLinear().domain([0, 25]).range([0, panelW]);
var y = d3.scaleLinear().domain([-0.8, 0.806]).range([panelH, 0]);

function pairs(flat) {
    return d3.range(0, flat.length, 2).map(function (i) { return [flat[i], flat[i + 1]]; });
}
var line = d3.line()
    .x(function (d) { return x(d[0]); })
    .y(function (d) { return y(d[1]); });

svg.append("defs").append("clipPath").attr("id", "clip")
    .append("rect").attr("width", panelW).attr("height", panelH);

// column titles
svg.selectAll("text.trial").data(trials).enter().append("text")
    .attr("class", "trial")
    .attr("x", function (d, i) { return left0 + i * colStep + panelW / 2; })
    .attr("y", 26)
    .attr("text-anchor", "middle")
    .style("white-space", "pre")
    .style("font-size", "15px")
    .text(function (d) { return d; });

fingers.forEach(function (fname, r) {
    var top = top0 + r * rowStep;

    // row title above middle column
    svg.append("text")
        .attr("x", left0 + 2 * colStep + panelW / 2)
        .attr("y", top - 5.5)
        .attr("text-anchor", "middle")
        .style("white-space", "pre")
        .style("font-size", "15px")
        .text(fname);

    // y label
    svg.append("text")
        .attr("transform", "translate(22," + (top + panelH / 2) + ") rotate(-90)")
        .attr("text-anchor", "middle")
        .style("font-size", "13px")
        .text("Force (MVC)");

    trials.forEach(function (tname, c) {
        var g = svg.append("g")
            .attr("transform", "translate(" + (left0 + c * colStep) + "," + top + ")");

        // grid
        g.append("g").selectAll("line").data(xTicks).enter().append("line")
            .attr("x1", function (d) { return x(d); }).attr("x2", function (d) { return x(d); })
            .attr("y1", 0).attr("y2", panelH)
            .attr("stroke", gridColor).attr("stroke-width", 0.8);
        g.append("g").selectAll("line").data(yTicks).enter().append("line")
            .attr("y1", function (d) { return y(d); }).attr("y2", function (d) { return y(d); })
            .attr("x1", 0).attr("x2", panelW)
            .attr("stroke", gridColor).attr("stroke-width", 0.8);

        var plot = g.append("g").attr("clip-path", "url(#clip)");
        plot.append("path").datum(pairs(truth[r][c]))
            .attr("d", line).attr("fill", "none")
            .attr("stroke", truthColor).attr("stroke-width", 1)
            .attr("stroke-linejoin", "round");
        plot.append("path").datum(pairs(estimate[r][c]))
            .attr("d", line).attr("fill", "none")
            .attr("stroke", estColor).attr("stroke-width", 1)
            .attr("stroke-linejoin", "round");

        // axes
        var ax = d3.axisBottom(x).tickValues(xTicks).tickSize(3.5).tickPadding(3.5)
            .tickFormat(r === 4 ? d3.format("d") : "");
        var gx = g.append("g").attr("transform", "translate(0," + panelH + ")").call(ax);
        var ay = d3.axisLeft(y).tickValues(yTicks).tickSize(3.5).tickPadding(5)
            .tickFormat(c === 0 ? d3.format(".2f") : "");
        var gy = g.append("g").call(ay);
        [gx, gy].forEach(function (a) {
            a.select(".domain").remove();
            a.selectAll(".tick line").attr("stroke", "#000").attr("stroke-width", 0.8);
            a.selectAll(".tick text")
                .style("font-family", "'DejaVu Sans', sans-serif")
                .style("font-size", "11px").attr("fill", "#000");
        });

        // spines
        g.append("rect")
            .attr("width", panelW).attr("height", panelH)
            .attr("fill", "none").attr("stroke", "#000").attr("stroke-width", 1);

        if (r === 4) {
            g.append("text")
                .attr("x", panelW / 2).attr("y", panelH + 32)
                .attr("text-anchor", "middle")
                .style("font-size", "13px")
                .text("Time (s)");
        }

        // legend in first panel
        if (r === 0 && c === 0) {
            var lg = g.append("g").attr("transform", "translate(6.3,6.3)");
            lg.append("rect")
                .attr("width", 157).attr("height", 37.5).attr("rx", 2.5)
                .attr("fill", "#fff").attr("fill-opacity", 0.8)
                .attr("stroke", "#cccccc").attr("stroke-width", 1);
            [truthColor, estColor].forEach(function (col, i) {
                lg.append("line")
                    .attr("x1", 4.5).attr("x2", 27.5)
                    .attr("y1", 9.5 + i * 16.8).attr("y2", 9.5 + i * 16.8)
                    .attr("stroke", col).attr("stroke-width", 1);
                lg.append("text")
                    .attr("x", 37.5).attr("y", 9.5 + i * 16.8)
                    .attr("dy", "0.35em")
                    .style("font-size", "11.5px")
                    .text(seriesNames[i]);
            });
        }
    });
});
</script>
</body>
</html>
